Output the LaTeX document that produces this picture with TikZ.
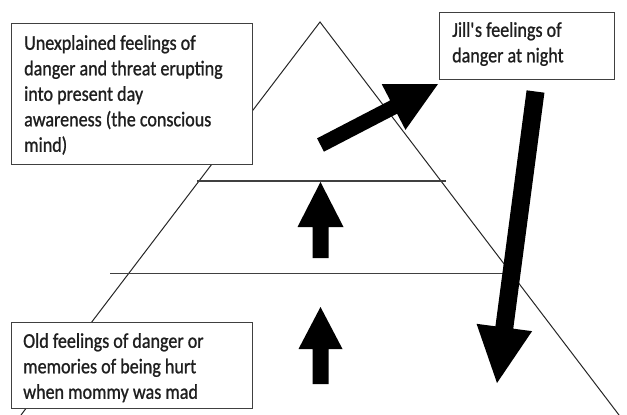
\documentclass[tikz,border=0pt]{standalone}
\usepackage{fontspec}
\setmainfont{Carlito}
\newfontfamily\boxfont{Carlito}[FakeBold=1.0, FakeStretch=0.86]
\usetikzlibrary{calc}
\newcommand{\bigarrow}[5]{% #1 tail, #2 tip, #3 shaft half width, #4 head half width, #5 head length
  \coordinate (#1-hb) at ($(#2)!#5!(#1)$);
  \fill[fatarrow] ($(#1)!#3!90:(#2)$) -- ($(#1-hb)!#3!90:(#2)$) -- ($(#1-hb)!#4!90:(#2)$)
    -- (#2) -- ($(#1-hb)!#4!-90:(#2)$) -- ($(#1-hb)!#3!-90:(#2)$) -- ($(#1)!#3!-90:(#2)$) -- cycle;
}
\tikzset{
  edge line/.style={draw=black!85, line width=1pt},
  level line/.style={draw=black!75, line width=1.3pt},
  framebox/.style={draw=black!75, line width=1.2pt, fill=white, anchor=north west, inner sep=0pt},
  boxtext/.style={anchor=north west, align=left, inner sep=0pt, text=black!88,
    font=\boxfont\fontsize{21}{25.5}\selectfont},
  fatarrow/.style={fill=black}
}
\begin{document}
\begin{tikzpicture}[x=1pt,y=-1pt]
\useasboundingbox (0,0) rectangle (627,415);
% pyramid
\coordinate (apex) at (320,22);
\coordinate (bl) at (21,415);
\coordinate (br) at (619,415);
\draw[edge line] (bl) -- (apex) -- (br);
\coordinate (l1a) at (197,181);
\coordinate (l1b) at (446,181);
\coordinate (l2a) at (110,273.5);
\coordinate (l2b) at (506,273.5);
\draw[level line] (l1a) -- (l1b);
\draw[level line] (l2a) -- (l2b);
% boxes
\node[framebox, minimum width=241pt, minimum height=141pt] (conscious) at (11,23) {};
\node[boxtext] (consciousText) at (24,35)
  {Unexplained feelings of\\ danger and threat erupting\\ into present day\\ awareness (the conscious\\ mind)};
\node[framebox, minimum width=175pt, minimum height=67pt] (jill) at (439,12) {};
\node[boxtext] (jillText) at (452,22)
  {Jill\textquotesingle s feelings of\\ danger at night};
\node[framebox, minimum width=241pt, minimum height=86pt] (old) at (11,322) {};
\node[boxtext] (oldText) at (23,333)
  {Old feelings of danger or\\ memories of being hurt\\ when mommy was mad};
% arrows
\coordinate (d1) at (320.5,145);
\coordinate (d2) at (438,84);
\bigarrow{d1}{d2}{7.5pt}{25.7pt}{50pt}
\coordinate (u1) at (320.5,258);
\coordinate (u2) at (320.5,182);
\bigarrow{u1}{u2}{8pt}{23pt}{45pt}
\coordinate (v1) at (320.5,384);
\coordinate (v2) at (320.5,307);
\bigarrow{v1}{v2}{8pt}{22pt}{42pt}
\coordinate (w1) at (535.5,91.5);
\coordinate (w2) at (497,383);
\bigarrow{w1}{w2}{9pt}{28pt}{56pt}
\end{tikzpicture}
\end{document}
